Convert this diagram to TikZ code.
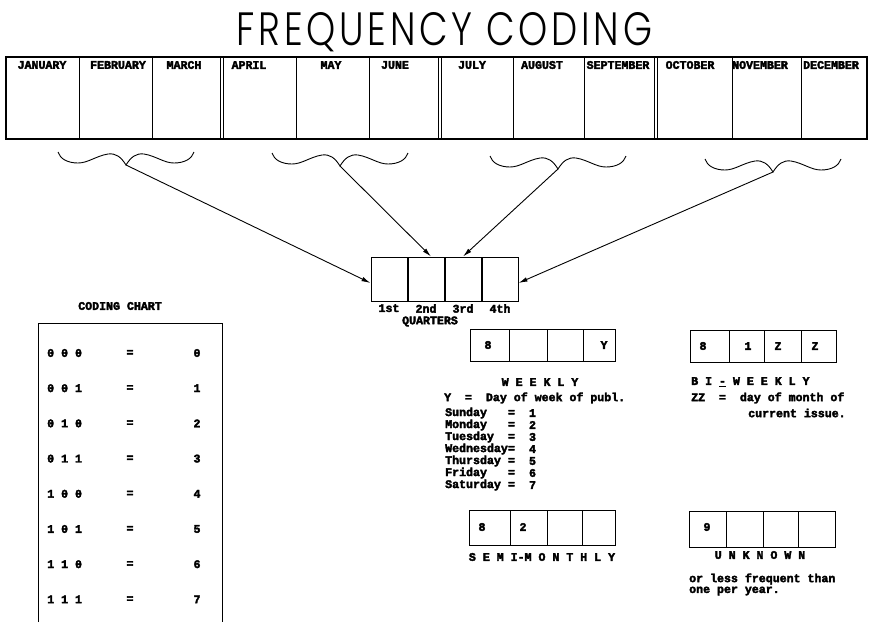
\documentclass[tikz,border=0pt]{standalone}
\usepackage{fontspec}
\setmonofont{Liberation Mono}[BoldFeatures={FakeBold=3}]
\newfontfamily\titlefont{Poppins}[UprightFont=* Light, LetterSpace=10]
\usetikzlibrary{positioning,arrows.meta}

\tikzset{
  tw/.style={font=\ttfamily\bfseries\fontsize{11.6}{12}\selectfont, inner sep=0pt},
  freqbox/.style={draw, line width=1pt, inner sep=0pt, anchor=north west, minimum width=146pt},
  qcell/.style={draw, line width=1pt, inner sep=0pt, minimum width=36pt, minimum height=44pt},
  arr/.style={-{Latex[length=9pt,width=4.5pt]}, line width=0.9pt},
  pics/wavebrace/.style={code={
    \draw[line width=0.9pt] (-68,-13) .. controls (-66,-6) and (-58,-2) .. (-48,-2)
      .. controls (-38,-2) and (-30,-9) .. (-18,-11) .. controls (-10,-12) and (-5,-8) .. (0,0)
      .. controls (5,-8) and (10,-12) .. (18,-11) .. controls (30,-9) and (38,-2) .. (48,-2)
      .. controls (58,-2) and (66,-6) .. (68,-13);
  }}
}

\begin{document}
\begin{tikzpicture}[x=1pt,y=-1pt]
    \useasboundingbox (0,0) rectangle (874,622);
    \node[inner sep=0pt, anchor=base](title) at (444.5,45) {\resizebox{415pt}{33pt}{\titlefont FREQUENCY CODING}};
    % months
    \draw[line width=1.1pt] (6,57) rectangle (867,139);
    \foreach \x in {79,152,296,369,513,584,732,801}
        \draw[line width=1pt] (\x,57)--(\x,139);
    \foreach \x in {222,440,656}{
        \draw[line width=0.9pt] (\x-1.3,57)--(\x-1.3,139);
        \draw[line width=0.9pt] (\x+1.3,57)--(\x+1.3,139);
    }
    \foreach \mon/\xc [count=\i] in {JANUARY/42,FEBRUARY/118,MARCH/184,APRIL/249,MAY/331,JUNE/395,JULY/472,AUGUST/542,SEPTEMBER/618,OCTOBER/690,NOVEMBER/760,DECEMBER/831}
        \node[tw](month\i) at (\xc,65) {\mon};
    % braces
    \foreach \xc/\yc [count=\i] in {126/165,340/166,558/169,773/172}{
        \coordinate(tip\i) at (\xc,\yc);
        \pic at (tip\i) {wavebrace};
    }
    % quarters
    \node[qcell](q1) at (389,279) {};
    \node[qcell, right=0pt of q1](q2) {};
    \node[qcell, right=0pt of q2](q3) {};
    \node[qcell, right=0pt of q3](q4) {};
    \node[tw, below=2.5pt of q1](l1) {1st};
    \node[tw, below=2.5pt of q2](l2) {2nd};
    \node[tw, below=2.5pt of q3](l3) {3rd};
    \node[tw, below=2.5pt of q4](l4) {4th};
    \node[tw](quarters) at (430,321.5) {QUARTERS};
    \draw[arr] (tip1)--([yshift=-4pt]q1.west);
    \draw[arr] (tip2)--([xshift=5pt]q2.north);
    \draw[arr] (tip3)--(q3.north);
    \draw[arr] (tip4)--([yshift=-4pt]q4.east);
    % coding chart
    \node[tw](chart) at (120,306) {CODING CHART};
    \draw[line width=1pt] (38,622)--(38,323)--(222,323)--(222,622);
    \foreach \bits/\val [count=\i] in {0 0 0/0,0 0 1/1,0 1 0/2,0 1 1/3,1 0 0/4,1 0 1/5,1 1 0/6,1 1 1/7}{
        \node[tw, anchor=west](bits\i) at (47,317.8+35.2*\i) {\bits};
        \node[tw](eq\i) at (130,317.8+35.2*\i) {=};
        \node[tw](val\i) at (197,317.8+35.2*\i) {\val};
    }
    % weekly
    \node[freqbox, minimum width=145pt, minimum height=32pt](weekly) at (470,329) {};
    \foreach \x in {509,547,583}
        \draw[line width=1pt] (\x,329)--(\x,361);
    \node[tw](w1) at (488,345) {8};
    \node[tw](w4) at (604,345) {Y};
    \node[tw](wlab) at (540,382) {W E E K L Y};
    \node[tw, anchor=west](wkey) at (444,398) {Y\ \ =\ \ Day of week of publ.};
    \foreach \day/\n [count=\i] in {Sunday/1,Monday/2,Tuesday/3,Wednesday/4,Thursday/5,Friday/6,Saturday/7}{
        \node[tw, anchor=west](day\i) at (445,401+12*\i) {\day};
        \node[tw](deq\i) at (511.5,401+12*\i) {=};
        \node[tw](dnum\i) at (532.5,401+12*\i) {\n};
    }
    % bi-weekly
    \node[freqbox, minimum height=32pt](biweekly) at (690,330) {};
    \foreach \x in {729,764,801}
        \draw[line width=1pt] (\x,330)--(\x,362);
    \node[tw](b1) at (703,346) {8};
    \node[tw](b2) at (748,346) {1};
    \node[tw](b3) at (778,346) {Z};
    \node[tw](b4) at (815,346) {Z};
    \node[tw, anchor=west](blab) at (691,382) {B I \underline{-} W E E K L Y};
    \node[tw, anchor=west](bkey) at (691,398) {ZZ\ \ =\ \ day of month of};
    \node[tw, anchor=west](bkey2) at (748,413) {current issue.};
    % semi-monthly
    \node[freqbox, minimum height=35pt](semi) at (469,510) {};
    \foreach \x in {510,547,582}
        \draw[line width=1pt] (\x,510)--(\x,545);
    \node[tw](s1) at (482,527) {8};
    \node[tw](s2) at (523,527) {2};
    \node[tw](slab) at (542,557) {S E M I-M O N T H L Y};
    % unknown
    \node[freqbox, minimum height=36pt](unknown) at (689,511) {};
    \foreach \x in {726,763,798}
        \draw[line width=1pt] (\x,511)--(\x,547);
    \node[tw](u1) at (707,527) {9};
    \node[tw](ulab) at (760,555) {U N K N O W N};
    \node[tw, anchor=west](ukey) at (689,579) {or less frequent than};
    \node[tw, anchor=west](ukey2) at (689,591) {one per year.};
\end{tikzpicture}
\end{document}
